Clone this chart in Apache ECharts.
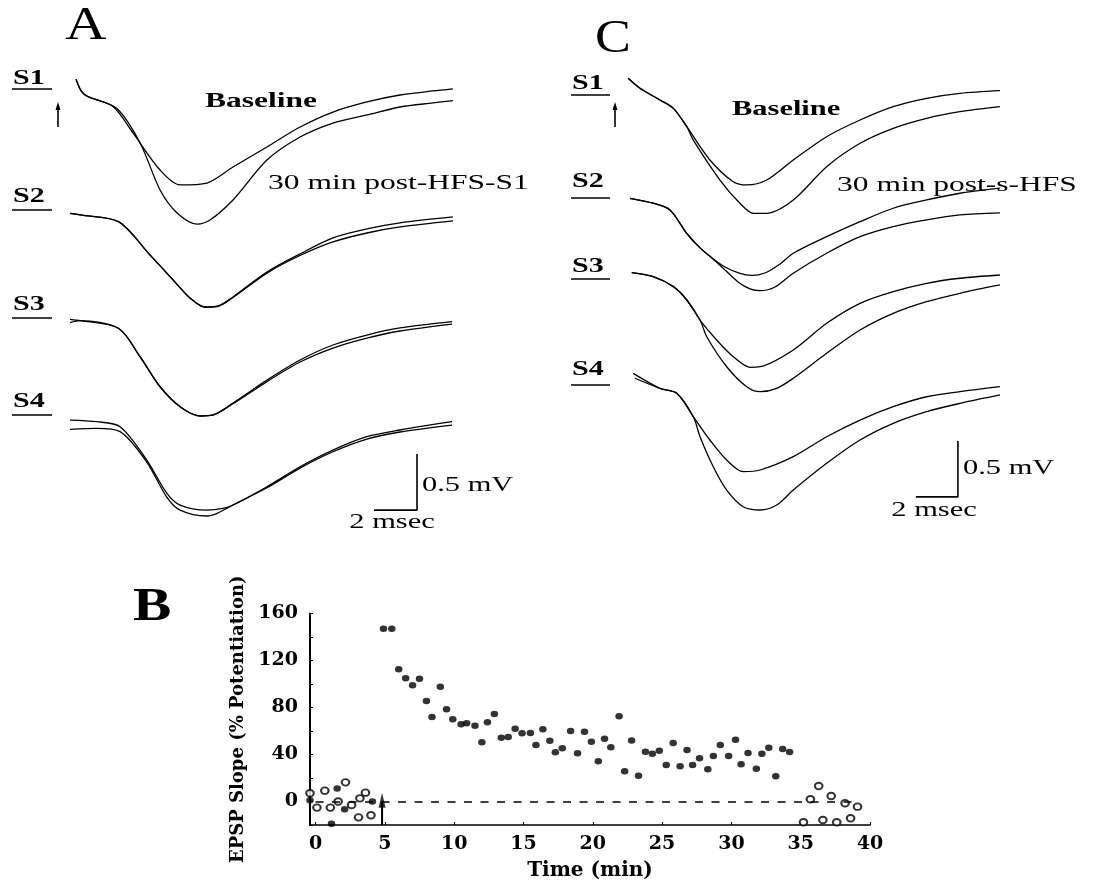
<!DOCTYPE html>
<html>
<head>
<meta charset="utf-8">
<title>EPSP traces and slope</title>
<script src="https://cdn.jsdelivr.net/npm/echarts@6/dist/echarts.min.js"></script>
<style>
  html, body { margin: 0; padding: 0; background: #fff; }
  #chart { width: 1094px; height: 891px; }
</style>
</head>
<body>
<div id="chart"></div>
<script>
// ---------- panel B: EPSP slope (% potentiation) vs time (min) ----------
var timeTicks = [0, 5, 10, 15, 20, 25, 30, 35, 40];
var tetanusTime = 4.8;

// filled circles after the tetanus
var filledTimes = [4.9, 5.5, 6.0, 6.5, 7.0, 7.5, 8.0, 8.4, 9.0, 9.45, 9.9, 10.5, 10.9, 11.5, 12.0, 12.4, 12.9, 13.4, 13.9, 14.4,
  14.9, 15.5, 15.9, 16.4, 16.9, 17.3, 17.8, 18.4, 18.9, 19.4, 19.9, 20.4, 20.85, 21.3, 21.9, 22.3, 22.8, 23.3, 23.8, 24.3,
  24.8, 25.3, 25.8, 26.3, 26.8, 27.2, 27.7, 28.3, 28.7, 29.2, 29.8, 30.3, 30.7, 31.2, 31.8, 32.2, 32.7, 33.2, 33.7, 34.2];
var filledSlopes = [147, 147, 112.5, 105, 99, 104.5, 85.5, 72, 97.7, 78.5, 70, 65.7, 66.5, 64.5, 50.4, 67.4, 74.5, 54.3, 54.9, 62,
  58, 58.3, 48, 61.4, 51.6, 41.9, 45.3, 60, 41, 59.4, 50.9, 34.2, 53.5, 46.1, 72.5, 25.7, 52, 22, 42.4, 40.7,
  43.2, 31, 49.8, 30, 43.8, 31, 36.8, 27.4, 38.7, 48, 38.7, 52.6, 31.7, 41.3, 27.9, 40.7, 45.8, 21.4, 44.7, 42.1];
// filled circles in the baseline period
var filledPreTimes = [-0.4, 1.15, 1.56, 2.1, 4.1];
var filledPreSlopes = [1, -19, 11, -6.6, 0];
// open circles
var openPreTimes = [-0.4, 0.1, 0.67, 1.07, 1.63, 2.16, 2.6, 3.1, 3.2, 3.6, 4.0];
var openPreSlopes = [7, -5.2, 9.2, -5.2, 0, 16.3, -3, -13.5, 2.7, 7.5, -11.7];
var openPostTimes = [35.2, 35.7, 36.3, 36.6, 37.2, 37.6, 38.2, 38.6, 39.1];
var openPostSlopes = [-17.7, 1.9, 13.2, -15.7, 4.7, -17.7, -1.5, -14.3, -4.4];

// ---------- panels A and C: field EPSP traces, [ms, mV] from the sweep's start level ----------
var aS1Base = [[0.28, 0.006], [0.54, -0.104], [0.84, -0.149], [2.01, -0.238], [2.93, -0.473], [4.19, -0.804], [5.12, -0.937], [6.37, -0.92],
  [7.58, -0.777], [9.16, -0.598], [10.7, -0.42], [12.23, -0.286], [13.81, -0.196], [15.35, -0.134], [16.88, -0.098], [17.81, -0.08]];
var aS1Post = [[0.28, 0.006], [0.54, -0.104], [0.84, -0.149], [2.17, -0.253], [3.26, -0.562], [4.19, -0.982], [4.98, -1.187], [5.91, -1.286],
  [6.51, -1.25], [7.58, -1.071], [9.16, -0.714], [10.7, -0.509], [12.23, -0.384], [13.81, -0.312], [15.35, -0.241], [16.88, -0.205], [17.81, -0.185]];
var aS2Base = [[0, -0.003], [0.47, -0.018], [2.25, -0.078], [3.72, -0.375], [4.88, -0.616], [5.58, -0.759], [6.28, -0.839], [6.88, -0.83],
  [7.58, -0.75], [9.16, -0.527], [10.7, -0.366], [12.23, -0.223], [13.81, -0.143], [15.35, -0.089], [17.81, -0.036]];
var aS2Post = [[0, -0.003], [0.47, -0.018], [2.25, -0.078], [3.72, -0.375], [4.88, -0.616], [5.58, -0.759], [6.28, -0.842], [6.88, -0.834],
  [7.58, -0.755], [9.16, -0.537], [10.7, -0.38], [12.23, -0.259], [13.81, -0.179], [15.35, -0.125], [17.81, -0.071]];
var aS3Base = [[0, 0.006], [0.47, -0.006], [2.25, -0.074], [3.26, -0.328], [4.19, -0.596], [5.12, -0.774], [6.05, -0.857], [6.65, -0.848],
  [7.58, -0.741], [9.16, -0.536], [10.7, -0.357], [12.23, -0.223], [13.81, -0.134], [15.35, -0.071], [17.77, -0.015]];
var aS3Post = [[0, -0.024], [0.47, -0.006], [2.25, -0.074], [3.26, -0.328], [4.19, -0.596], [5.12, -0.774], [6.05, -0.857], [6.65, -0.85],
  [7.58, -0.748], [9.16, -0.55], [10.7, -0.375], [12.23, -0.25], [13.81, -0.161], [15.35, -0.098], [17.77, -0.036]];
var aS4Base = [[0, 0], [1.24, -0.015], [2.33, -0.06], [3.57, -0.357], [4.5, -0.652], [5.12, -0.759], [6.37, -0.804], [7.12, -0.788],
  [7.58, -0.759], [9.16, -0.596], [10.7, -0.417], [12.23, -0.268], [13.81, -0.149], [15.35, -0.089], [17.77, -0.015]];
var aS4Post = [[0, -0.083], [1.24, -0.074], [2.33, -0.104], [3.57, -0.375], [4.5, -0.688], [5.12, -0.804], [6.37, -0.857], [6.84, -0.833],
  [7.58, -0.759], [9.16, -0.605], [10.7, -0.429], [12.23, -0.283], [13.81, -0.17], [15.35, -0.107], [17.77, -0.045]];

var cS1Base = [[0.01, -0.003], [0.57, -0.092], [1.52, -0.196], [2.16, -0.271], [2.8, -0.435], [3.9, -0.732], [5.01, -0.926], [5.65, -0.955],
  [6.6, -0.911], [7.87, -0.732], [9.46, -0.524], [11.05, -0.375], [12.63, -0.256], [14.22, -0.181], [15.81, -0.137], [17.71, -0.113]];
var cS1Post = [[0.01, -0.003], [0.57, -0.092], [1.52, -0.196], [2.16, -0.271], [2.8, -0.435], [3.11, -0.554], [4.38, -0.911], [5.33, -1.119],
  [5.97, -1.208], [6.6, -1.208], [7.87, -1.089], [9.46, -0.792], [11.05, -0.583], [12.63, -0.449], [14.22, -0.36], [15.81, -0.301], [17.71, -0.256]];
var cS2Base = [[0.1, -0.003], [1.2, -0.047], [2.0, -0.107], [2.79, -0.315], [3.43, -0.446], [4.0, -0.536], [4.62, -0.616], [5.33, -0.674],
  [5.9, -0.692], [6.52, -0.67], [7.24, -0.589], [7.87, -0.494], [9.46, -0.346], [11.05, -0.212], [12.63, -0.092], [14.22, -0.018], [15.81, 0.042], [17.71, 0.087]];
var cS2Post = [[0.1, -0.003], [1.2, -0.047], [2.0, -0.107], [2.79, -0.315], [3.43, -0.446], [4.0, -0.536], [4.62, -0.643], [5.24, -0.75],
  [5.81, -0.812], [6.29, -0.828], [7.0, -0.795], [7.87, -0.672], [9.46, -0.494], [11.05, -0.346], [12.63, -0.256], [14.22, -0.196], [15.81, -0.152], [17.71, -0.134]];
var cS3Base = [[0.18, 0.003], [1.2, -0.033], [2.16, -0.122], [2.8, -0.241], [3.43, -0.42], [4.22, -0.598], [5.01, -0.747], [5.81, -0.842],
  [6.29, -0.837], [7.87, -0.687], [9.46, -0.449], [11.05, -0.271], [12.63, -0.167], [14.22, -0.092], [15.81, -0.047], [17.71, -0.018]];
var cS3Post = [[0.18, 0.003], [1.2, -0.033], [2.16, -0.122], [2.8, -0.241], [3.43, -0.42], [3.75, -0.569], [4.7, -0.837], [5.65, -1.015],
  [6.29, -1.06], [7.08, -1.03], [7.87, -0.94], [9.46, -0.717], [11.05, -0.509], [12.63, -0.36], [14.22, -0.256], [15.81, -0.181], [17.71, -0.107]];
var cS4Base = [[0.25, 0.006], [1.52, -0.128], [2.32, -0.172], [3.11, -0.381], [3.9, -0.589], [4.7, -0.768], [5.49, -0.872], [6.29, -0.857],
  [7.87, -0.738], [9.46, -0.56], [11.05, -0.411], [12.63, -0.292], [14.22, -0.203], [15.81, -0.158], [17.71, -0.113]];
var cS4Post = [[0.33, -0.038], [1.52, -0.128], [2.32, -0.172], [3.11, -0.381], [3.43, -0.56], [4.06, -0.828], [4.7, -1.036], [5.49, -1.185],
  [6.29, -1.214], [7.08, -1.17], [7.87, -1.036], [9.46, -0.797], [11.05, -0.589], [12.63, -0.44], [14.22, -0.336], [15.81, -0.262], [17.71, -0.187]];

// calibration bars
var barMs = 2;
var barMv = 0.5;

// ---------- layout ----------
var ink = '#000';
var serif = '"Liberation Serif", "Times New Roman", serif';
var wideSerif = '"DejaVu Serif", serif';

// where each sweep is stacked in its panel (mV below the S1 level)
var rowsA = [0, -1.187, -2.143, -3.036];
var rowsC = [0, -1.071, -1.741, -2.643];

function pairs(xs, ys) {
  return xs.map(function (x, i) { return [x, ys[i]]; });
}

function trace(points, offset, idx) {
  return {
    type: 'line',
    xAxisIndex: idx,
    yAxisIndex: idx,
    data: points.map(function (p) { return [p[0], p[1] + offset]; }),
    symbol: 'none',
    smooth: 0.3,
    silent: true,
    lineStyle: { color: ink, width: 1.3 }
  };
}

function calBar(cornerMs, cornerMv, idx) {
  return {
    type: 'line',
    xAxisIndex: idx,
    yAxisIndex: idx,
    data: [[cornerMs - barMs, cornerMv], [cornerMs, cornerMv], [cornerMs, cornerMv + barMv]],
    symbol: 'none',
    silent: true,
    lineStyle: { color: ink, width: 1.6 }
  };
}

function txt(text, x, y, size, weight, sx, align) {
  return {
    type: 'text', x: x, y: y, scaleX: sx, silent: true,
    style: {
      text: text, fill: ink, font: weight + ' ' + size + 'px ' + serif,
      textAlign: align || 'left', textVerticalAlign: 'middle', verticalAlign: 'middle'
    }
  };
}

function rowLabel(text, x, y, lineY, x2) {
  return [
    txt(text, x, y, 20, 'bold', 1.5),
    { type: 'line', silent: true, shape: { x1: x - 1, y1: lineY, x2: x2, y2: lineY }, style: { stroke: ink, lineWidth: 1.4 } }
  ];
}

function stimArrow(x, y) {
  return [
    { type: 'line', silent: true, shape: { x1: x, y1: y + 25, x2: x, y2: y + 6 }, style: { stroke: ink, lineWidth: 1.6 } },
    { type: 'polygon', silent: true, shape: { points: [[x - 2.5, y + 8], [x, y], [x + 2.5, y + 8]] }, style: { fill: ink } }
  ];
}

var graphics = [
  txt('A', 65, 27, 46, 'normal', 1.25),
  txt('C', 595, 40, 46, 'normal', 1.17),
  txt('B', 133, 608, 46, 'bold', 1.25),
  txt('Baseline', 205, 102, 21, 'bold', 1.5),
  txt('30 min post-HFS-S1', 268, 183, 21, 'normal', 1.5),
  txt('Baseline', 732, 110, 21, 'bold', 1.45),
  txt('30 min post-s-HFS', 837, 185, 21, 'normal', 1.5),
  txt('0.5 mV', 422, 485, 21, 'normal', 1.45),
  txt('2 msec', 392, 522, 21, 'normal', 1.45, 'center'),
  txt('0.5 mV', 963, 468, 21, 'normal', 1.45),
  txt('2 msec', 934, 510, 21, 'normal', 1.45, 'center')
]
  .concat(rowLabel('S1', 13, 79, 89, 52))
  .concat(rowLabel('S2', 13, 197, 210, 52))
  .concat(rowLabel('S3', 13, 305, 318, 52))
  .concat(rowLabel('S4', 13, 402, 415, 52))
  .concat(rowLabel('S1', 572, 84, 95, 610))
  .concat(rowLabel('S2', 572, 182, 198, 610))
  .concat(rowLabel('S3', 572, 267, 279, 610))
  .concat(rowLabel('S4', 572, 370, 385, 610))
  .concat(stimArrow(58, 102))
  .concat(stimArrow(615, 102));

var hidden = { show: false };

var option = {
  backgroundColor: '#fff',
  animation: false,
  grid: [
    { left: 310, right: 224, top: 613.5, bottom: 66 },
    { left: 70, top: 57.6, width: 387, height: 481.6 },
    { left: 628, top: 55.6, width: 378, height: 481.6 }
  ],
  xAxis: [
    {
      gridIndex: 0, type: 'value', min: -0.4, max: 40,
      name: 'Time (min)', nameLocation: 'middle', nameGap: 36,
      nameTextStyle: { color: ink, fontFamily: wideSerif, fontWeight: 'bold', fontSize: 20 },
      axisLine: { onZero: false, lineStyle: { color: ink, width: 1.6 } },
      axisTick: { show: true, inside: true, length: 3, customValues: timeTicks, lineStyle: { color: ink } },
      axisLabel: { customValues: timeTicks, color: ink, fontFamily: wideSerif, fontWeight: 'bold', fontSize: 19, margin: 10 },
      splitLine: hidden
    },
    { gridIndex: 1, type: 'value', min: 0, max: 18, show: false },
    { gridIndex: 2, type: 'value', min: 0, max: 18, show: false }
  ],
  yAxis: [
    {
      gridIndex: 0, type: 'value', min: -20, max: 160, interval: 20,
      name: 'EPSP Slope (% Potentiation)', nameLocation: 'middle', nameGap: 58, nameRotate: 90,
      nameTextStyle: { color: ink, fontFamily: wideSerif, fontWeight: 'bold', fontSize: 18 },
      axisLine: { show: true, onZero: false, lineStyle: { color: ink, width: 2 } },
      axisTick: { show: true, inside: true, length: 3, lineStyle: { color: ink } },
      axisLabel: {
        color: ink, fontFamily: wideSerif, fontWeight: 'bold', fontSize: 19, margin: 12,
        formatter: function (v) { return v >= 0 && v % 40 === 0 ? String(v) : ''; }
      },
      splitLine: hidden
    },
    { gridIndex: 1, type: 'value', min: -4.1, max: 0.2, show: false },
    { gridIndex: 2, type: 'value', min: -4.1, max: 0.2, show: false }
  ],
  graphic: graphics,
  series: [
    {
      // stimulus arrow shaft + zero reference line
      type: 'line', xAxisIndex: 0, yAxisIndex: 0, silent: true,
      data: [[tetanusTime, -20], [tetanusTime, -1]],
      symbol: 'none', lineStyle: { color: ink, width: 2 },
      markLine: {
        silent: true, symbol: 'none', label: { show: false },
        lineStyle: { color: ink, type: [8, 8.5], width: 1.5 },
        data: [[{ coord: [0, 0] }, { coord: [38.8, 0] }]]
      }
    },
    {
      type: 'scatter', xAxisIndex: 0, yAxisIndex: 0, silent: true,
      data: [[tetanusTime, 1]], symbol: 'triangle', symbolSize: [7, 15],
      itemStyle: { color: ink }
    },
    {
      type: 'scatter', xAxisIndex: 0, yAxisIndex: 0, silent: true,
      data: pairs(openPreTimes, openPreSlopes).concat(pairs(openPostTimes, openPostSlopes)),
      symbol: 'emptyCircle', symbolSize: [7.5, 6.5],
      itemStyle: { color: ink, borderColor: ink, borderWidth: 1.6 }
    },
    {
      type: 'scatter', xAxisIndex: 0, yAxisIndex: 0, silent: true,
      data: pairs(filledPreTimes, filledPreSlopes).concat(pairs(filledTimes, filledSlopes)),
      symbol: 'circle', symbolSize: [7.5, 6.5],
      itemStyle: { color: ink }
    },
    trace(aS1Base, rowsA[0], 1), trace(aS1Post, rowsA[0], 1),
    trace(aS2Base, rowsA[1], 1), trace(aS2Post, rowsA[1], 1),
    trace(aS3Base, rowsA[2], 1), trace(aS3Post, rowsA[2], 1),
    trace(aS4Base, rowsA[3], 1), trace(aS4Post, rowsA[3], 1),
    calBar(16.14, -3.84, 1),
    trace(cS1Base, rowsC[0], 2), trace(cS1Post, rowsC[0], 2),
    trace(cS2Base, rowsC[1], 2), trace(cS2Post, rowsC[1], 2),
    trace(cS3Base, rowsC[2], 2), trace(cS3Post, rowsC[2], 2),
    trace(cS4Base, rowsC[3], 2), trace(cS4Post, rowsC[3], 2),
    calBar(15.71, -3.74, 2)
  ]
};

var chart = echarts.init(document.getElementById('chart'));
chart.setOption(option);
</script>
</body>
</html>
